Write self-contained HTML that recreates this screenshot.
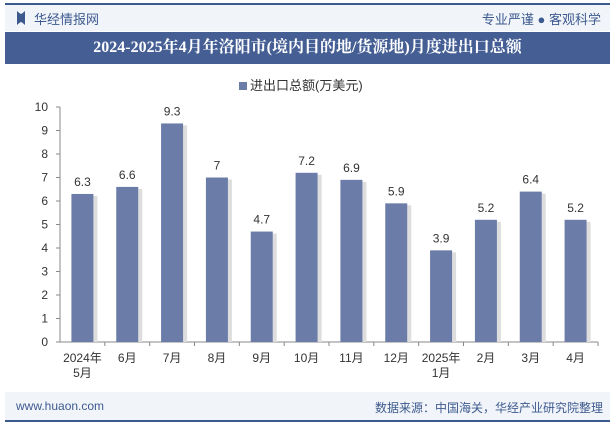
<!DOCTYPE html>
<html><head><meta charset="utf-8"><style>
body{margin:0;width:615px;height:427px;background:#fff;font-family:"Liberation Sans","Noto Sans CJK SC",sans-serif;overflow:hidden;position:relative}
.a{position:absolute}
</style></head><body>
<div class="a" style="left:5px;top:3px;width:605px;height:2px;background:#3d5a8f"></div>
<div class="a" style="left:5px;top:5px;width:605px;height:26px;background:#f1f4f9"></div>
<div class="a" style="left:17px;top:11px;width:8px;height:14px;background:#3d5a8f;clip-path:polygon(0 0,40% 20%,60% 20%,100% 0,100% 100%,60% 80%,40% 80%,0 100%)"></div>
<div class="a" style="left:34px;top:9px;font-size:13px;color:#3d5a8f">华经情报网</div>
<div class="a" style="right:14px;top:9px;font-size:13px;color:#3d5a8f">专业严谨 ● 客观科学</div>
<div class="a" style="left:5px;top:32px;width:605px;height:32px;background:#455f95;color:#fff;font-family:'Liberation Serif','Noto Serif CJK SC',serif;font-weight:bold;font-size:16px;line-height:32px;text-align:center">2024-2025年4月年洛阳市(境内目的地/货源地)月度进出口总额</div>
<div class="a" style="left:239px;top:75px;font-size:13px;color:#333"><span style="display:inline-block;width:8px;height:8px;background:#6a7ca7;margin-right:3px"></span>进出口总额(万美元)</div>
<svg class="a" style="left:0;top:0" width="615" height="427" id="c"></svg>
<div class="a" style="left:5px;top:392px;width:605px;height:29px;background:#f1f4f9"></div>
<div class="a" style="left:5px;top:420px;width:605px;height:2px;background:#3d5a8f"></div>
<div class="a" style="left:16px;top:399px;font-size:12px;color:#3d5a8f">www.huaon.com</div>
<div class="a" style="right:12px;top:399px;font-size:12px;color:#3d5a8f">数据来源：中国海关，华经产业研究院整理</div>
<script>
const categories=["2024年\n5月","6月","7月","8月","9月","10月","11月","12月","2025年\n1月","2月","3月","4月"];
const values=[6.3,6.6,9.3,7,4.7,7.2,6.9,5.9,3.9,5.2,6.4,5.2];
const yTicks=[0,1,2,3,4,5,6,7,8,9,10];
const svg=document.getElementById('c');const ns='http://www.w3.org/2000/svg';
const x0=60,x1=598,y0=342,yTop=107;
const bw=(x1-x0)/categories.length;
const Y=v=>y0-(v/10)*(y0-yTop);
function mk(t,a,txt){const e=document.createElementNS(ns,t);for(const k in a)e.setAttribute(k,a[k]);if(txt!=null)e.textContent=txt;svg.appendChild(e);return e;}
yTicks.forEach(t=>{const e=mk('text',{x:48,y:Y(t)+4,'text-anchor':'end','font-size':12,fill:'#333'},t);


mk('line',{x1:x0-4,x2:x0,y1:Y(t),y2:Y(t),stroke:'#888'});});
mk('line',{x1:x0,x2:x0,y1:yTop,y2:y0,stroke:'#888'});
mk('line',{x1:x0,x2:x1,y1:y0,y2:y0,stroke:'#888'});
categories.forEach((c,i)=>{const cx=x0+bw*(i+0.5);
mk('line',{x1:x0+bw*(i+1),x2:x0+bw*(i+1),y1:y0,y2:y0+4,stroke:'#888'});
const sh=mk('rect',{x:cx+11,y:Y(values[i])+2,width:4,height:y0-Y(values[i])-2,fill:'#ddd'});
const r=mk('rect',{x:cx-11,y:Y(values[i]),width:22,height:y0-Y(values[i]),fill:'#6a7ca7'});


const v=mk('text',{x:cx,y:Y(values[i])-8,'text-anchor':'middle','font-size':12,fill:'#333'},values[i]);


c.split('\n').forEach((l,j)=>{const t=mk('text',{x:cx,y:y0+20+j*15,'text-anchor':'middle','font-size':12,fill:'#333'},l);

});
});
</script>
</body></html>
